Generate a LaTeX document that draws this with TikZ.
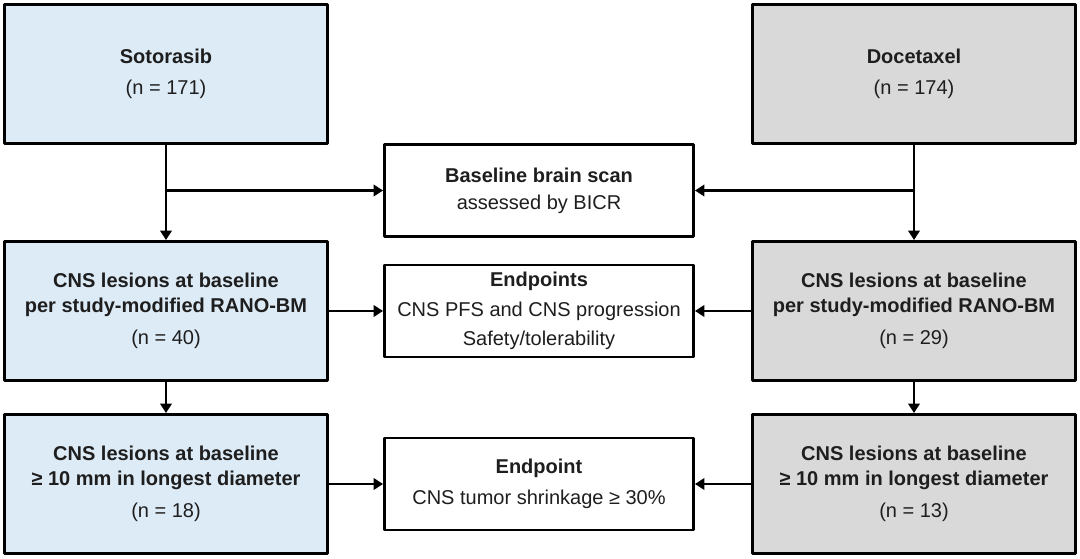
\documentclass[tikz,border=0pt]{standalone}
\usepackage{fontspec}
\setmainfont{Liberation Sans}
\usetikzlibrary{arrows.meta}
\definecolor{armblue}{HTML}{DDEBF7}
\definecolor{armgray}{HTML}{D9D9D9}
\definecolor{txt}{HTML}{1E1E1E}
\begin{document}
\begin{tikzpicture}[x=0.75pt,y=-0.75pt,>={Triangle[length=7pt,width=8.5pt]},
	line join=round,
	font=\fontsize{15}{19}\selectfont, text=txt,
	sidebox/.style={draw,line width=2.2pt,minimum width=323*0.75pt,minimum height=139*0.75pt,align=center,inner sep=0pt},
	midbox/.style={draw,line width=2.2pt,fill=white,minimum width=309*0.75pt,minimum height=92*0.75pt,align=center,inner sep=0pt},
	flow/.style={->,line width=1.7pt}]
	\useasboundingbox (0,0) rectangle (1080,559);
	% left arm
	\node[sidebox,fill=armblue] (S1) at (166,74) {\textbf{Sotorasib}\\[4pt](n = 171)};
	\node[sidebox,fill=armblue] (S2) at (166,311) {\textbf{CNS lesions at baseline}\\\textbf{per study-modified RANO-BM}\\[5pt](n = 40)};
	\node[sidebox,fill=armblue] (S3) at (166,484) {\textbf{CNS lesions at baseline}\\\textbf{≥ 10 mm in longest diameter}\\[5pt](n = 18)};
	% right arm
	\node[sidebox,fill=armgray] (D1) at (914,74) {\textbf{Docetaxel}\\[4pt](n = 174)};
	\node[sidebox,fill=armgray] (D2) at (914,311) {\textbf{CNS lesions at baseline}\\\textbf{per study-modified RANO-BM}\\[5pt](n = 29)};
	\node[sidebox,fill=armgray] (D3) at (914,484) {\textbf{CNS lesions at baseline}\\\textbf{≥ 10 mm in longest diameter}\\[5pt](n = 13)};
	% middle
	\node[midbox] (B) at (539,190.5) {\textbf{Baseline brain scan}\\[1pt]assessed by BICR};
	\node[midbox] (E1) at (539,311) {\textbf{Endpoints}\\[3pt]CNS PFS and CNS progression\\[3pt]Safety/tolerability};
	\node[midbox] (E2) at (539,484) {\textbf{Endpoint}\\[4pt]CNS tumor shrinkage ≥ 30\%};
	% connectors
	\draw[flow] (S1.south)--(S2.north);
	\draw[flow] (S2.south)--(S3.north);
	\draw[flow] (D1.south)--(D2.north);
	\draw[flow] (D2.south)--(D3.north);
	\draw[flow] (S1.south|-B.west)--(B.west);
	\draw[flow] (D1.south|-B.east)--(B.east);
	\draw[flow] (S2.east)--(E1.west);
	\draw[flow] (D2.west)--(E1.east);
	\draw[flow] (S3.east)--(E2.west);
	\draw[flow] (D3.west)--(E2.east);
\end{tikzpicture}
\end{document}
